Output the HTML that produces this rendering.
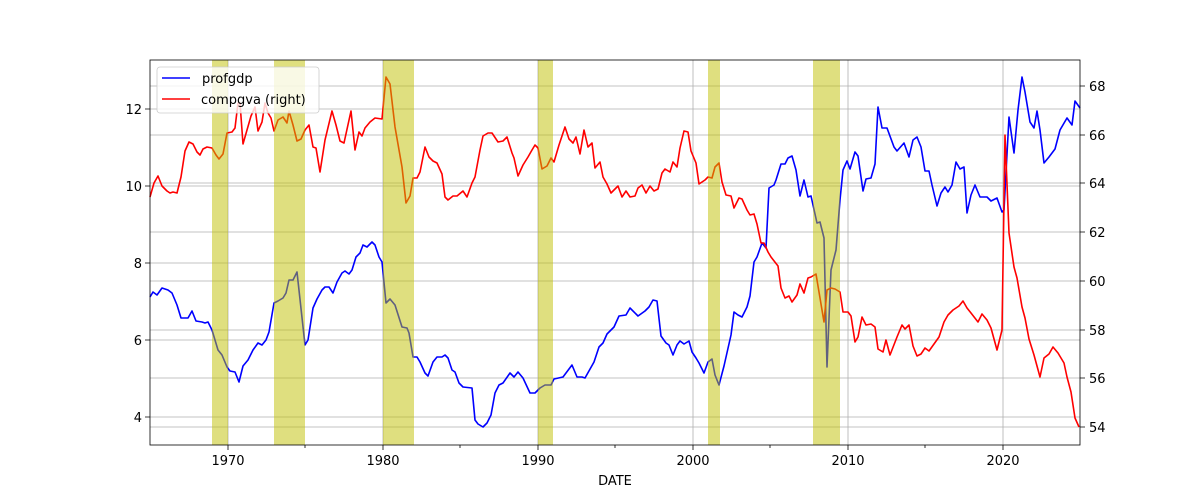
<!DOCTYPE html>
<html><head><meta charset="utf-8"><style>body{margin:0;background:#fff}svg{display:block}text{font-family:"DejaVu Sans","Liberation Sans",sans-serif;font-size:13px;fill:#000}</style></head><body>
<svg width="1200" height="500" viewBox="0 0 1200 500" xmlns="http://www.w3.org/2000/svg">
<rect width="1200" height="500" fill="#fff"/>
<g stroke="#b0b0b0" stroke-width="0.8" fill="none">
<path d="M228 60V445M383 60V445M538 60V445M693 60V445M848 60V445M1003 60V445"/>
<path d="M150 417H1080M150 340H1080M150 263H1080M150 186H1080M150 109H1080"/>
<path d="M150 427H1080M150 378H1080M150 330H1080M150 281H1080M150 232H1080M150 183H1080M150 135H1080M150 86H1080"/>
</g>
<polyline fill="none" stroke="#0000ff" stroke-width="1.6" stroke-linejoin="round" points="150,297 153,292 157,295 162,288 168,290 172,293 177,305 181,318 188,318 192,311 196,321 202,322 205,323 208,322 212,330 218,350 222,355 227,367 230,371 235,372 239,382 243,366 248,360 253,350 258,343 262,345 266,340 269,332 274,303 278,301 283,298 286,293 289,280 293,280 297,272 305,345 308,340 313,308 317,299 322,290 325,287 329,287 333,293 337,282 342,273 345,271 349,274 352,270 356,257 360,253 363,245 367,247 372,242 375,245 379,257 382,262 386,303 390,299 395,305 402,327 407,328 409,333 413,357 417,357 420,362 425,373 428,376 433,362 437,357 442,357 445,355 448,358 452,370 455,372 459,383 463,387 472,388 475,420 478,424 483,427 487,423 491,415 495,393 499,385 503,383 510,373 514,377 518,372 523,378 530,393 535,393 540,388 545,385 551,385 554,379 563,377 572,365 577,377 582,377 585,378 594,362 599,347 603,343 607,334 614,327 619,316 626,315 630,308 638,316 645,311 649,307 653,300 657,301 661,336 666,343 669,345 673,355 677,345 680,341 684,344 689,341 692,352 696,358 699,363 704,373 708,362 712,359 715,375 719,385 724,366 731,335 734,312 738,315 742,317 747,307 750,296 754,262 757,257 762,243 766,248 769,188 774,185 776,180 781,164 785,164 788,158 792,156 796,170 800,196 804,180 808,197 811,196 817,223 820,222 824,238 827,367 831,270 836,250 840,200 843,170 847,161 850,169 855,152 858,156 863,191 866,179 871,178 875,164 878,107 882,128 887,128 894,147 897,151 904,143 909,157 913,140 917,137 921,147 925,171 929,171 932,185 937,206 941,193 945,187 948,192 952,185 956,162 960,169 964,167 967,213 971,195 975,185 980,197 987,197 991,201 997,198 1002,212 1004,210 1009,117 1014,153 1018,110 1022,77 1025,92 1030,122 1034,128 1037,111 1040,130 1044,163 1049,157 1055,149 1060,130 1067,118 1072,125 1075,101 1080,108"/>
<polyline fill="none" stroke="#ff0000" stroke-width="1.6" stroke-linejoin="round" points="150,197 154,183 158,176 162,186 167,191 170,193 173,192 177,193 181,177 185,151 189,142 193,144 197,152 200,155 203,149 207,147 212,148 216,155 219,159 223,154 227,133 232,132 235,128 238,103 240,103 243,144 247,130 251,116 255,107 258,131 262,122 265,103 268,113 271,118 274,131 278,120 283,117 287,123 289,111 293,125 297,141 301,139 305,130 309,125 313,147 316,148 320,172 325,140 332,111 336,125 340,141 344,143 351,111 355,150 359,132 362,136 365,128 370,122 375,118 382,119 386,77 390,84 395,127 402,167 406,203 410,196 413,178 417,178 420,172 425,147 429,157 433,161 437,163 442,174 445,197 448,200 453,196 457,196 463,191 467,197 472,183 475,177 480,150 483,136 488,133 492,133 498,142 503,141 507,137 512,153 514,158 518,176 523,165 528,157 532,150 535,145 538,148 542,169 547,166 551,158 554,162 559,145 565,127 569,139 573,143 576,137 580,154 584,130 588,147 592,143 595,168 600,162 603,177 607,184 611,193 618,186 622,197 626,191 630,197 635,196 638,188 642,185 646,193 650,186 654,191 658,189 662,173 665,169 670,172 673,162 677,167 680,148 684,131 688,132 691,151 696,163 699,184 705,180 708,177 712,178 715,167 719,163 722,182 726,195 731,196 734,208 739,198 742,199 747,210 750,215 754,214 757,224 761,243 764,243 768,252 771,257 778,266 781,288 785,298 789,296 792,302 797,295 800,284 804,293 808,278 811,277 816,274 824,322 827,290 831,288 835,289 840,292 843,312 848,312 851,316 855,342 858,337 862,317 866,325 871,324 875,327 878,349 883,352 886,340 890,355 897,337 902,325 905,329 909,325 913,346 917,356 921,354 925,348 929,351 934,344 939,337 944,322 948,315 953,310 959,306 963,301 967,308 971,313 978,322 982,314 987,320 991,328 997,350 1002,330 1005,135 1009,233 1014,267 1017,278 1022,307 1025,318 1029,339 1034,355 1040,377 1044,358 1049,354 1053,347 1058,353 1064,363 1067,377 1071,392 1075,418 1079,427"/>
<g fill="#bfbf00" fill-opacity="0.5">
<rect x="212" y="60" width="16" height="385"/>
<rect x="274" y="60" width="31" height="385"/>
<rect x="383" y="60" width="31" height="385"/>
<rect x="538" y="60" width="15" height="385"/>
<rect x="708" y="60" width="12" height="385"/>
<rect x="813" y="60" width="27" height="385"/>
</g>
<rect x="150" y="60" width="930" height="385" fill="none" stroke="#000" stroke-width="0.8"/>
<g stroke="#000" stroke-width="0.8">
<path d="M228 445v5M383 445v5M538 445v5M693 445v5M848 445v5M1003 445v5"/>
<path d="M305 445v3M460 445v3M615 445v3M770 445v3M925 445v3"/>
<path d="M150 417h-5M150 340h-5M150 263h-5M150 186h-5M150 109h-5"/>
<path d="M1080 427h5M1080 378h5M1080 330h5M1080 281h5M1080 232h5M1080 183h5M1080 135h5M1080 86h5"/>
</g>
<g text-anchor="middle">
<text x="228" y="465">1970</text><text x="383" y="465">1980</text><text x="538" y="465">1990</text><text x="693" y="465">2000</text><text x="848" y="465">2010</text><text x="1003" y="465">2020</text>
<text x="615" y="485">DATE</text>
</g>
<g text-anchor="end">
<text x="142" y="422">4</text><text x="142" y="345">6</text><text x="142" y="268">8</text><text x="142" y="191">10</text><text x="142" y="114">12</text>
</g>
<g>
<text x="1089" y="432">54</text><text x="1089" y="383">56</text><text x="1089" y="335">58</text><text x="1089" y="286">60</text><text x="1089" y="237">62</text><text x="1089" y="188">64</text><text x="1089" y="140">66</text><text x="1089" y="91">68</text>
</g>
<rect x="157" y="67" width="162" height="46" rx="3" fill="#fff" fill-opacity="0.8" stroke="#ccc" stroke-width="0.8"/>
<path d="M162 78h28" stroke="#0000ff" stroke-width="1.6"/>
<path d="M162 99h28" stroke="#ff0000" stroke-width="1.6"/>
<text x="202" y="83">profgdp</text>
<text x="201" y="104">compgva (right)</text>
</svg>
</body></html>
